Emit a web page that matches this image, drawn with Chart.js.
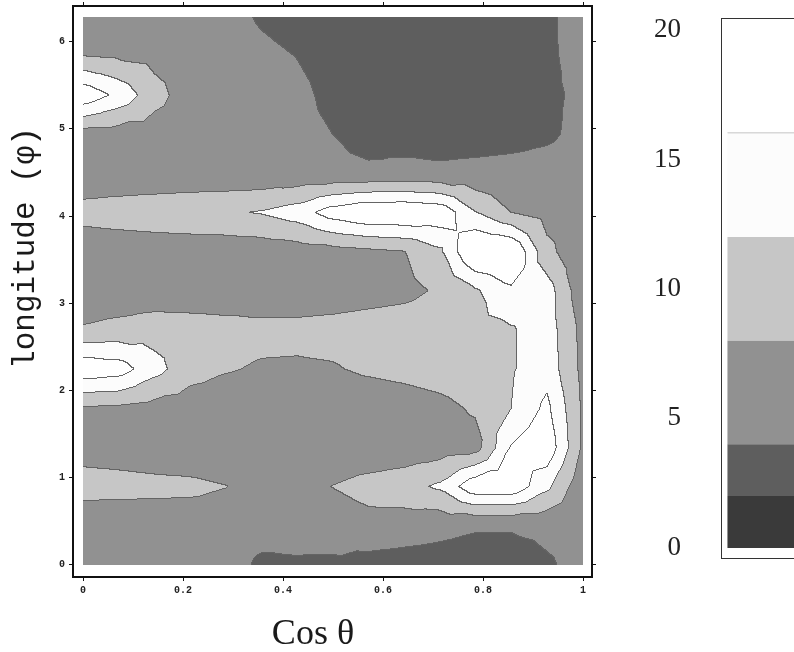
<!DOCTYPE html>
<html>
<head>
<meta charset="utf-8">
<script src="https://cdn.jsdelivr.net/npm/chart.js"></script>
<style>
  body { margin: 0; background: #fff; overflow: hidden; }
  #contourChart { position: absolute; left: 0; top: 0; }
  #scaleChart { position: absolute; left: 600px; top: 0; }
</style>
</head>
<body>
<canvas id="contourChart" width="620" height="652"></canvas>
<canvas id="scaleChart" width="260" height="652"></canvas>
<script>
// grid nodes of the sampled surface
var cosTheta = [0, 0.0714, 0.1429, 0.2143, 0.2857, 0.3571, 0.4286, 0.5, 0.5714, 0.6429, 0.7143, 0.7857, 0.8571, 0.9286, 1];
var phi = [0, 0.4488, 0.8976, 1.3464, 1.7952, 2.2440, 2.6928, 3.1416, 3.5904, 4.0392, 4.4880, 4.9368, 5.3856, 5.8344, 6.2832];

// one row per phi node (bottom row first)
var zRows = [
  [5.5, 5.7, 5.9, 6.0, 6.0, 3.2, 3.5, 3.5, 2.7, 2.4, 2.6, 2.2, 2.2, 3.6, 5.0],
  [5.3, 5.5, 5.8, 6.0, 6.0, 5.8, 5.6, 5.5, 6.6, 6.0, 5.0, 4.4, 4.4, 4.8, 5.2],
  [9.5, 9.3, 9.0, 8.8, 8.1, 6.5, 6.5, 8.1, 9.5, 10.5, 12.7, 19.0, 19.0, 13.0, 5.0],
  [6.5, 6.2, 5.8, 5.5, 5.3, 5.0, 4.9, 4.9, 5.0, 5.3, 5.8, 6.3, 16.3, 19.0, 7.5],
  [7.5, 7.4, 6.5, 6.0, 5.8, 5.6, 5.5, 5.5, 5.6, 6.0, 6.8, 8.6, 12.0, 17.0, 7.5],
  [19.0, 18.0, 13.5, 9.5, 8.3, 7.6, 7.5, 7.7, 8.6, 9.2, 10.0, 10.8, 11.6, 14.5, 7.0],
  [8.45, 9.3, 10.3, 10.0, 9.5, 9.1, 9.0, 9.3, 9.7, 10.0, 10.4, 11.0, 11.6, 14.1, 6.8],
  [5.0, 5.2, 5.3, 5.3, 5.4, 5.5, 5.8, 6.0, 6.5, 7.0, 8.5, 11.5, 15.3, 14.0, 5.2],
  [5.3, 5.5, 5.6, 5.6, 5.5, 5.6, 6.0, 6.5, 7.2, 7.9, 11.2, 20.8, 20.5, 9.1, 5.1],
  [9.5, 10.0, 10.5, 11.0, 11.5, 12.3, 14.0, 18.0, 20.0, 20.0, 19.0, 12.2, 8.0, 6.5, 6.0],
  [5.0, 5.1, 5.1, 5.1, 5.0, 4.9, 4.8, 4.6, 4.5, 4.9, 4.6, 4.8, 5.0, 5.2, 5.5],
  [6.4, 6.0, 6.0, 5.6, 5.3, 5.0, 4.6, 4.0, 3.0, 2.7, 2.7, 2.8, 3.0, 3.5, 4.8],
  [19.0, 15.0, 9.5, 6.0, 5.5, 5.0, 4.6, 3.4, 2.5, 2.3, 2.3, 2.4, 2.7, 3.5, 4.5],
  [8.0, 7.4, 6.8, 6.0, 5.3, 4.6, 3.95, 3.1, 2.6, 2.5, 2.5, 2.6, 2.9, 3.5, 5.0],
  [6.5, 6.3, 6.0, 5.6, 5.0, 3.7, 3.0, 2.7, 2.6, 2.6, 2.6, 2.7, 2.9, 3.5, 5.2]
];

var contourLevels = [2, 4, 8, 12, 16];
var scaleBands = [[0, 2], [2, 4], [4, 8], [8, 12], [12, 16], [16, 20]];
var xTickValues = [0, 0.2, 0.4, 0.6, 0.8, 1];
var yTickValues = [0, 1, 2, 3, 4, 5, 6];
var scaleTickValues = [0, 5, 10, 15, 20];

var bandColors = ['#3a3a3a', '#5e5e5e', '#919191', '#c6c6c6', '#fcfcfc', '#ffffff'];
var lineColor = [100, 100, 100];

function findCell(arr, v) {
  for (var k = 0; k < arr.length - 2; k++) {
    if (v < arr[k + 1]) return k;
  }
  return arr.length - 2;
}

// linear interpolation on 4 triangles per grid cell
function surface(u, v) {
  var i = findCell(cosTheta, u), j = findCell(phi, v);
  var a = (u - cosTheta[i]) / (cosTheta[i + 1] - cosTheta[i]);
  var b = (v - phi[j]) / (phi[j + 1] - phi[j]);
  var z00 = zRows[j][i], z10 = zRows[j][i + 1], z01 = zRows[j + 1][i], z11 = zRows[j + 1][i + 1];
  var zc = (z00 + z10 + z01 + z11) / 4;
  var p = a - 0.5, q = b - 0.5;
  if (Math.abs(q) >= Math.abs(p)) {
    if (q < 0) return zc + (z10 - z00) * p + (2 * zc - z00 - z10) * q;
    return zc + (z11 - z01) * p + (z01 + z11 - 2 * zc) * q;
  }
  if (p < 0) return zc + (2 * zc - z00 - z01) * p + (z01 - z00) * q;
  return zc + (z10 + z11 - 2 * zc) * p + (z11 - z10) * q;
}

function bandOf(z) {
  var n = 0;
  for (var k = 0; k < contourLevels.length; k++) if (z >= contourLevels[k]) n++;
  return n;
}

function hexToRgb(h) {
  return [parseInt(h.substr(1, 2), 16), parseInt(h.substr(3, 2), 16), parseInt(h.substr(5, 2), 16)];
}

var contourFill = {
  id: 'contourFill',
  beforeDatasetsDraw: function(chart) {
    var xs = chart.scales.x, ys = chart.scales.y, ctx = chart.ctx;
    var left = Math.round(xs.getPixelForValue(cosTheta[0]));
    var right = Math.round(xs.getPixelForValue(cosTheta[cosTheta.length - 1]));
    var top = Math.round(ys.getPixelForValue(phi[phi.length - 1]));
    var bottom = Math.round(ys.getPixelForValue(phi[0]));
    var w = right - left, h = bottom - top;
    var bands = new Int8Array(w * h);
    for (var r = 0; r < h; r++) {
      var v = ys.getValueForPixel(top + r + 0.5);
      for (var c = 0; c < w; c++) {
        var u = xs.getValueForPixel(left + c + 0.5);
        bands[r * w + c] = bandOf(surface(u, v));
      }
    }
    var rgb = bandColors.map(hexToRgb);
    var img = ctx.createImageData(w, h);
    for (var r2 = 0; r2 < h; r2++) {
      for (var c2 = 0; c2 < w; c2++) {
        var idx = r2 * w + c2, bd = bands[idx];
        var edge = (c2 + 1 < w && bands[idx + 1] !== bd) || (r2 + 1 < h && bands[idx + w] !== bd);
        var col = edge ? lineColor : rgb[bd];
        img.data[idx * 4] = col[0];
        img.data[idx * 4 + 1] = col[1];
        img.data[idx * 4 + 2] = col[2];
        img.data[idx * 4 + 3] = 255;
      }
    }
    ctx.putImageData(img, left, top);
  },
  afterDraw: function(chart) {
    var ctx = chart.ctx;
    ctx.save();
    ctx.fillStyle = '#1a1a1a';
    ctx.font = '31px "Liberation Mono"';
    ctx.textAlign = 'center';
    ctx.textBaseline = 'alphabetic';
    ctx.translate(34, 248);
    ctx.rotate(-Math.PI / 2);
    ctx.fillText('longitude (\u03c6)', 0, 0);
    ctx.restore();
    ctx.save();
    ctx.fillStyle = '#1a1a1a';
    ctx.font = '36px "Liberation Serif"';
    ctx.textAlign = 'center';
    ctx.fillText('Cos \u03b8', 313, 644);
    ctx.restore();
  }
};

var tickFont = { family: 'Liberation Mono', size: 10, weight: 'bold' };
var frameBorder = { display: true, color: '#111', width: 2 };
var frameGrid = { drawOnChartArea: false, color: '#111', tickLength: 4 };

function noPad(s) { s.paddingTop = 0; s.paddingBottom = 0; s.paddingLeft = 0; s.paddingRight = 0; }

new Chart(document.getElementById('contourChart').getContext('2d'), {
  type: 'scatter',
  data: { datasets: [] },
  options: {
    responsive: false,
    animation: false,
    layout: { padding: { left: 0, top: 0, right: 22, bottom: 0 } },
    plugins: { legend: { display: false }, tooltip: { enabled: false } },
    scales: {
      x: {
        type: 'linear', position: 'bottom', min: -0.02, max: 1.018,
        afterBuildTicks: function(s) { s.ticks = xTickValues.map(function(v) { return { value: v }; }); },
        afterFit: function(s) { s.height = 75; noPad(s); },
        ticks: { font: tickFont, color: '#222', padding: 3, maxRotation: 0,
                 callback: function(v) { return String(Math.round(v * 10) / 10); } },
        grid: frameGrid, border: frameBorder
      },
      x2: {
        type: 'linear', position: 'top', min: -0.02, max: 1.018,
        afterBuildTicks: function(s) { s.ticks = xTickValues.map(function(v) { return { value: v }; }); },
        afterFit: function(s) { s.height = 6; noPad(s); },
        ticks: { display: false }, grid: frameGrid, border: frameBorder
      },
      y: {
        type: 'linear', position: 'left', min: -0.138, max: 6.41,
        afterBuildTicks: function(s) { s.ticks = yTickValues.map(function(v) { return { value: v }; }); },
        afterFit: function(s) { s.width = 73; noPad(s); },
        ticks: { font: tickFont, color: '#222', padding: 4 },
        grid: frameGrid, border: frameBorder
      },
      y2: {
        type: 'linear', position: 'right', min: -0.138, max: 6.41,
        afterBuildTicks: function(s) { s.ticks = yTickValues.map(function(v) { return { value: v }; }); },
        afterFit: function(s) { s.width = 6; noPad(s); },
        ticks: { display: false }, grid: frameGrid, border: frameBorder
      }
    }
  },
  plugins: [contourFill]
});

// level key on the right
var scaleFrame = {
  id: 'scaleFrame',
  afterDraw: function(chart) {
    var a = chart.chartArea, ctx = chart.ctx;
    ctx.save();
    ctx.strokeStyle = '#333';
    ctx.lineWidth = 1;
    ctx.strokeRect(a.left + 0.5, a.top + 0.5, a.right - a.left, a.bottom - a.top);
    ctx.restore();
  }
};

new Chart(document.getElementById('scaleChart').getContext('2d'), {
  type: 'bar',
  data: {
    labels: ['level'],
    datasets: scaleBands.map(function(b, k) {
      var isTop = k === scaleBands.length - 1;
      return {
        data: [b],
        backgroundColor: bandColors[k],
        borderColor: 'rgb(100,100,100)',
        borderWidth: isTop ? { top: 0, left: 0, right: 0, bottom: 1 } : 0,
        borderSkipped: false,
        grouped: false,
        categoryPercentage: 1,
        barPercentage: 0.9
      };
    })
  },
  options: {
    responsive: false,
    animation: false,
    layout: { padding: { left: 0, top: 18, right: 10, bottom: 94 } },
    plugins: { legend: { display: false }, tooltip: { enabled: false } },
    scales: {
      x: { display: false },
      y: {
        min: -0.39, max: 20.46,
        afterBuildTicks: function(s) { s.ticks = scaleTickValues.map(function(v) { return { value: v }; }); },
        afterFit: function(s) { s.width = 121; noPad(s); },
        ticks: { font: { family: 'Liberation Serif', size: 27 }, color: '#222', padding: 32 },
        grid: { display: false },
        border: { display: true, color: '#333', width: 1 }
      }
    }
  },
  plugins: [scaleFrame]
});
</script>
</body>
</html>
